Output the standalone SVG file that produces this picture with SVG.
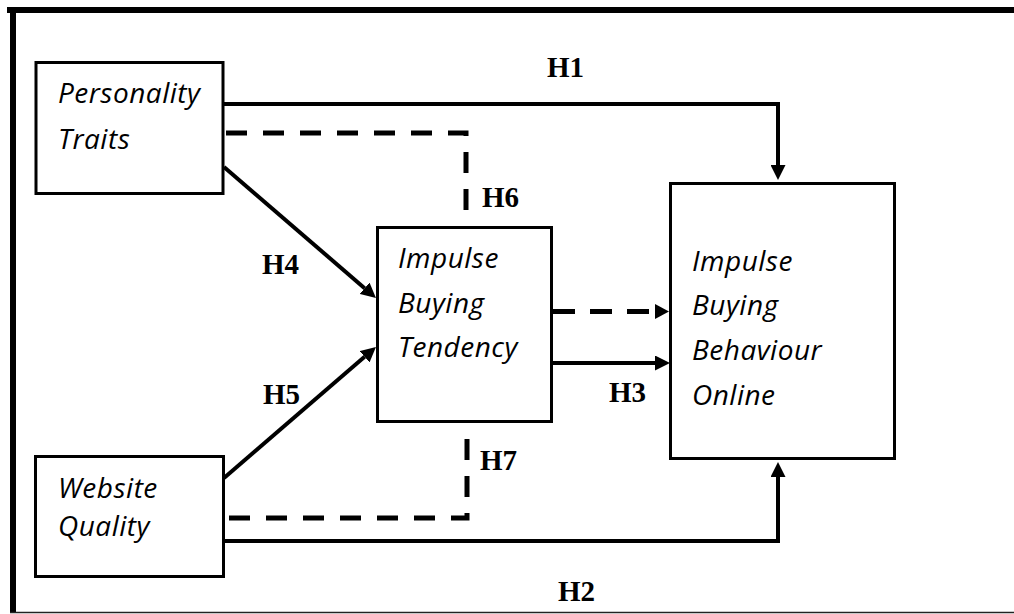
<svg xmlns="http://www.w3.org/2000/svg" width="1014" height="614" viewBox="0 0 1014 614">
  <style>
    .box { fill: #ffffff; stroke: #000000; stroke-width: 3; }
    .lbl { font-family: "Open Sans", "Liberation Sans", sans-serif; font-style: italic; font-size: 28px; letter-spacing: 0.5px; fill: #000000; }
    .hyp { font-family: "Liberation Serif", "Times New Roman", serif; font-weight: bold; font-size: 29px; fill: #000000; }
    .solid { fill: none; stroke: #000000; stroke-width: 4; }
    .dash { fill: none; stroke: #000000; stroke-width: 5; stroke-dasharray: 21 16; }
  </style>
  <defs>
    <marker id="arrow" viewBox="0 0 10 10" refX="0" refY="5" markerWidth="15" markerHeight="15" markerUnits="userSpaceOnUse" orient="auto">
      <path d="M0,0 L10,5 L0,10 Z" fill="#000000"/>
    </marker>
  </defs>
  <rect x="0" y="0" width="1014" height="614" fill="#ffffff"/>
  <g id="frame">
    <line x1="7" y1="10" x2="1014" y2="10" stroke="#000000" stroke-width="6"/>
    <line x1="13" y1="7" x2="13" y2="613" stroke="#000000" stroke-width="6"/>
    <line x1="10" y1="612.5" x2="1014" y2="612.5" stroke="#222222" stroke-width="1.5"/>
  </g>
  <g id="connectors">
    <path class="solid" d="M224,104 H778 V165" marker-end="url(#arrow)"/>
    <path class="solid" d="M224,541 H778 V477" marker-end="url(#arrow)"/>
    <path class="dash" d="M226,133 H466 V223"/>
    <path class="dash" d="M229,518 H467 V430"/>
    <path class="solid" d="M224,167 L364.6,288.2" marker-end="url(#arrow)"/>
    <path class="solid" d="M224,478 L364.6,356.8" marker-end="url(#arrow)"/>
    <path class="dash" d="M553,311.5 H655" style="stroke-dasharray: 22 15"/>
    <polygon points="655,304 669,311.5 655,319" fill="#000000"/>
    <path class="solid" d="M553,363 H655" marker-end="url(#arrow)"/>
  </g>
  <g id="node-personality">
    <rect class="box" x="36" y="62.5" width="187" height="131"/>
    <text class="lbl" x="58" y="103">Personality</text>
    <text class="lbl" x="58" y="149">Traits</text>
  </g>
  <g id="node-website">
    <rect class="box" x="35.5" y="456.5" width="188" height="120"/>
    <text class="lbl" x="58" y="498">Website</text>
    <text class="lbl" x="58" y="536">Quality</text>
  </g>
  <g id="node-tendency">
    <rect class="box" x="377.5" y="227.5" width="174" height="194"/>
    <text class="lbl" x="398" y="268">Impulse</text>
    <text class="lbl" x="398" y="313">Buying</text>
    <text class="lbl" x="398" y="357">Tendency</text>
  </g>
  <g id="node-behaviour">
    <rect class="box" x="670.5" y="183.5" width="224" height="275"/>
    <text class="lbl" x="692" y="271">Impulse</text>
    <text class="lbl" x="692" y="315">Buying</text>
    <text class="lbl" x="692" y="360">Behaviour</text>
    <text class="lbl" x="692" y="405">Online</text>
  </g>
  <g id="labels">
    <text class="hyp" x="547" y="77">H1</text>
    <text class="hyp" x="558" y="601">H2</text>
    <text class="hyp" x="609" y="402">H3</text>
    <text class="hyp" x="262" y="274">H4</text>
    <text class="hyp" x="263" y="404">H5</text>
    <text class="hyp" x="482" y="207">H6</text>
    <text class="hyp" x="480" y="470">H7</text>
  </g>
</svg>
